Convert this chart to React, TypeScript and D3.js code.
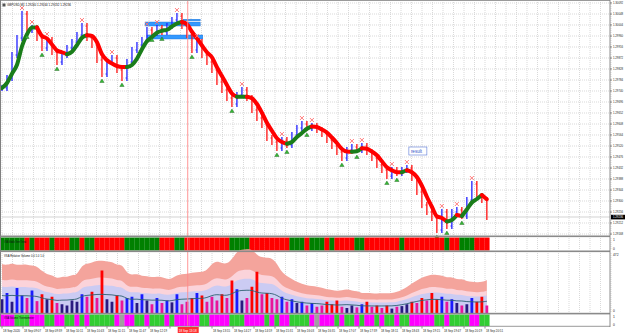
import React from 'react';
import * as d3 from 'd3';

const W = 625;
const H = 333;
const plotL = 2;
const plotR = 610;

const titleText = 'GBPUSD,M1  1.29240 1.29244 1.29232 1.29236';

// closes, one bar every barSeconds starting at 08:35
const barSeconds = 457;
const closes = [
  1.29752, 1.29792, 1.29884, 1.29952, 1.30048, 1.29984, 1.29992, 1.29952, 1.29912, 1.29944,
  1.29896, 1.29856, 1.29884, 1.29912, 1.29936, 1.29964, 1.30000, 1.29952, 1.29924, 1.29864,
  1.29808, 1.29856, 1.29872, 1.29824, 1.29792, 1.29856, 1.29904, 1.29924, 1.29944, 1.29984,
  1.29972, 1.29992, 1.29976, 1.30000, 1.30024, 1.30040, 1.30000, 1.29964, 1.29904, 1.29936,
  1.29884, 1.29856, 1.29824, 1.29776, 1.29744, 1.29712, 1.29688, 1.29724, 1.29744, 1.29712,
  1.29664, 1.29632, 1.29604, 1.29552, 1.29536, 1.29512, 1.29544, 1.29524, 1.29564, 1.29592,
  1.29608, 1.29592, 1.29600, 1.29584, 1.29568, 1.29544, 1.29520, 1.29496, 1.29472, 1.29504,
  1.29516, 1.29504, 1.29520, 1.29496, 1.29472, 1.29444, 1.29424, 1.29400, 1.29424, 1.29412,
  1.29424, 1.29432, 1.29392, 1.29336, 1.29284, 1.29256, 1.29232, 1.29184, 1.29256, 1.29200,
  1.29256, 1.29264, 1.29240, 1.29304, 1.29368, 1.29320, 1.29304, 1.29236,
];

const volumes = [
  110, 160, 90, 200, 140, 120, 180, 95, 150, 110,
  130, 80, 70, 60, 100, 90, 150, 130, 170, 120,
  340, 110, 90, 140, 100, 120, 130, 80, 150, 100,
  70, 120, 80, 100, 85, 150, 70, 90, 120, 160,
  140, 90, 130, 100, 150, 120, 260, 190, 100, 120,
  210, 330, 150, 160, 120, 110, 130, 90, 110, 80,
  90, 60, 80, 50, 60, 90, 70, 100, 50, 40,
  60, 45, 70, 90, 50, 60, 40, 60, 35, 50,
  55, 70, 90, 80, 120, 100, 160, 110, 130, 90,
  110, 80, 60, 70, 120, 90, 130, 60,
];

// G = up trend, R = down trend
const trendStates = (
  'GGGGG' + 'RGRRR' + 'GRRRG' + 'GRGGR' + 'RRRRR' + 'GGGGG' + 'GGRRR' + 'GGRRR' + 'RRRRR' + 'RGGGG' +
  'RRRRR' + 'RRRGG' + 'GRGGG' + 'RGRRR' + 'RGGRR' + 'RRRRR' + 'GRRRR' + 'RRRRG' + 'RRGGG' + 'RRR'
).split('');

// M = magenta, G = green, S = neutral
const thermoStates = (
  'MMMGG' + 'GMMMG' + 'GMMGG' + 'MGMGG' + 'GGGMS' + 'MMGGM' + 'GGGMG' + 'MMMMM' + 'GGMMM' + 'MGGGM' +
  'MMMGM' + 'GMMGG' + 'GGMSM' + 'MMGMG' + 'GMGMM' + 'GMGGM' + 'GGMMM' + 'MMGGM' + 'GGGGM' + 'MGG'
).split('');

const timeLabels = [
  '08:35', '09:07', '09:39', '10:11', '10:43', '11:15', '11:47', '12:19', '12:51', '13:23', '13:55', '14:27',
  '14:59', '15:31', '16:03', '16:35', '17:07', '17:39', '18:11', '18:43', '19:15', '19:47', '20:19', '20:51',
];

const priceLabels = d3.range(22).map((k) => 1.30092 - 0.00044 * k);

const levels = [
  { from: '12:13', to: '13:37', price: 1.30008, kind: 'thick' },
  { from: '13:11', to: '13:37', price: 1.30024, kind: 'thin' },
  { from: '12:16', to: '13:41', price: 1.29956, kind: 'thick' },
];

const cursorTime = '13:18';
const resultNote = { time: '18:55', price: 1.295, text: 'result' };

const parse = d3.timeParse('%Y-%m-%d %H:%M');
const at = (hm: string) => parse('2020-09-18 ' + hm) as Date;
const t0 = at('08:35');

const x = d3.scaleTime().domain([t0, d3.timeMinute.offset(t0, 32)]).range([plotL, plotL + 21]);
const y = d3.scaleLinear().domain([1.30104, 1.29104]).range([0, 250]);
const vy = d3.scaleLinear().domain([0, 472]).range([313, 254]);

const barTimes = closes.map((_, i) => d3.timeSecond.offset(t0, i * barSeconds));

const font = 'Liberation Sans, Arial, sans-serif';

export default function App() {
  const xs = barTimes.map((t) => x(t));

  const ma = closes.map((_, i) => d3.mean(closes.slice(Math.max(0, i - 3), i + 1)) as number);
  const maPts = ma.map((v, i) => ({ x: xs[i], y: y(v), up: i === 0 ? true : v >= ma[i - 1] }));
  const runs: { up: boolean; pts: { x: number; y: number }[] }[] = [];
  maPts.forEach((p, i) => {
    const last = runs[runs.length - 1];
    if (!last || last.up !== p.up) runs.push({ up: p.up, pts: i > 0 ? [maPts[i - 1], p] : [p] });
    else last.pts.push(p);
  });
  const maLine = d3
    .line<{ x: number; y: number }>()
    .x((d) => d.x)
    .y((d) => d.y)
    .curve(d3.curveMonotoneX);

  const avg = volumes.map((_, i) => d3.mean(volumes.slice(Math.max(0, i - 4), i + 5)) as number);
  const band = (k: number) =>
    d3
      .area<number>()
      .x((_, i) => xs[i])
      .y0(vy(0))
      .y1((d) => vy(d * k))
      .curve(d3.curveBasis)(avg) as string;
  const avgLine = d3
    .line<number>()
    .x((_, i) => xs[i])
    .y((d) => vy(d))
    .curve(d3.curveBasis)(avg) as string;

  const gridTimes = d3.range(0, 930, 16).map((m) => d3.timeMinute.offset(t0, m));
  const lastClose = closes[closes.length - 1];
  const cursorX = x(at(cursorTime));

  const highs: number[] = [];
  const lows: number[] = [];
  closes.forEach((c, i) => {
    if (i === 0 || i === closes.length - 1) return;
    if (c > closes[i - 1] && c >= closes[i + 1]) highs.push(i);
    if (c < closes[i - 1] && c <= closes[i + 1]) lows.push(i);
  });

  const trendColor = (s: string) => (s === 'G' ? '#008000' : '#ff0000');
  const thermoColor = (s: string) => (s === 'M' ? '#ff00ff' : s === 'G' ? '#32cd32' : '#a0a0a0');

  return (
    <svg
      width={W}
      height={H}
      style={{ position: 'fixed', left: 0, top: 0, background: '#fff' }}
      fontFamily={font}
    >
      <rect width={W} height={H} fill="#fff" />

      {/* grid */}
      <g stroke="#cfcfcf" strokeWidth={0.8} strokeDasharray="1 1">
        {priceLabels.map((p, i) => (
          <line key={'h' + i} x1={plotL} x2={plotR} y1={y(p)} y2={y(p)} />
        ))}
        {gridTimes.map((t, i) => (
          <line key={'v' + i} x1={x(t)} x2={x(t)} y1={2} y2={235} />
        ))}
        {gridTimes.map((t, i) => (
          <line key={'v2' + i} x1={x(t)} x2={x(t)} y1={253} y2={312} />
        ))}
        {gridTimes.map((t, i) => (
          <line key={'v3' + i} x1={x(t)} x2={x(t)} y1={238} y2={250} />
        ))}
      </g>

      {/* bid line */}
      <line x1={plotL} x2={plotR} y1={y(lastClose)} y2={y(lastClose)} stroke="#c8c8c8" strokeWidth={0.8} />

      {/* levels */}
      {levels.map((l, i) => (
        <g key={'lv' + i}>
          <rect
            x={x(at(l.from))}
            y={y(l.price) - (l.kind === 'thick' ? 2 : 0.8)}
            width={x(at(l.to)) - x(at(l.from))}
            height={l.kind === 'thick' ? 4 : 1.6}
            fill="#3399ff"
            stroke="#1e6fd0"
            strokeWidth={0.4}
          />
        </g>
      ))}

      {/* price bars */}
      {closes.map((c, i) => {
        const o = i === 0 ? c : closes[i - 1];
        const top = y(Math.max(o, c)) - 3;
        const bot = y(Math.min(o, c)) + 3;
        return (
          <g key={'b' + i}>
            <line x1={xs[i]} x2={xs[i]} y1={top} y2={bot} stroke={c >= o ? '#2020ff' : '#ff1010'} strokeWidth={1.3} />
            <line x1={xs[i] - 1.5} x2={xs[i]} y1={y(o)} y2={y(o)} stroke={c >= o ? '#2020ff' : '#ff1010'} strokeWidth={0.8} />
            <line x1={xs[i]} x2={xs[i] + 1.5} y1={y(c)} y2={y(c)} stroke={c >= o ? '#8080ff' : '#ff8080'} strokeWidth={0.8} />
          </g>
        );
      })}

      {/* moving average */}
      {runs.map((r, i) => (
        <path
          key={'ma' + i}
          d={maLine(r.pts) as string}
          fill="none"
          stroke={r.up ? '#1a7d1a' : '#ff0000'}
          strokeWidth={4}
          strokeLinecap="round"
        />
      ))}

      {/* swing markers */}
      {highs.map((i) => {
        const cx = xs[i];
        const cy = y(closes[i]) - 6;
        return (
          <g key={'hi' + i} stroke="#ff7070" strokeWidth={0.9}>
            <line x1={cx - 2} x2={cx + 2} y1={cy - 2} y2={cy + 2} />
            <line x1={cx - 2} x2={cx + 2} y1={cy + 2} y2={cy - 2} />
          </g>
        );
      })}
      {lows.map((i) => {
        const cx = xs[i];
        const cy = y(closes[i]) + 5;
        return (
          <path
            key={'lo' + i}
            d={`M${cx},${cy} L${cx - 2.2},${cy + 3.5} L${cx + 2.2},${cy + 3.5} Z`}
            fill="#33b833"
            stroke="#1e5e1e"
            strokeWidth={0.4}
          />
        );
      })}

      {/* result note */}
      <g>
        <rect
          x={x(at(resultNote.time))}
          y={y(resultNote.price) - 4}
          width={18}
          height={8}
          fill="#fff"
          stroke="#5a78d8"
          strokeWidth={0.6}
        />
        <text x={x(at(resultNote.time)) + 2} y={y(resultNote.price) + 1.8} fontSize={4.5} fill="#3050c8">
          {resultNote.text}
        </text>
      </g>

      {/* trend panel */}
      {trendStates.map((s, i) => (
        <rect key={'tr' + i} x={xs[i] - 2.5} y={237.5} width={5.2} height={13} fill={trendColor(s)} />
      ))}
      <text x={4} y={242.5} fontSize={3} fill="#111" textLength={22} lengthAdjust="spacingAndGlyphs">
        VSA Middle Term Trend
      </text>

      {/* volume panel */}
      <path d={band(2.8)} fill="#f4a49c" />
      <path d={band(1.9)} fill="#fbd3da" />
      <path d={band(1.5)} fill="#cbcbf3" />
      {volumes.map((v, i) => {
        const o = i === 0 ? closes[0] : closes[i - 1];
        const up = closes[i] >= o;
        const strong = v > avg[i];
        const col = up ? (strong ? '#1a1aff' : '#2a1a80') : strong ? '#ff0000' : '#e8169a';
        return <rect key={'vb' + i} x={xs[i] - 1.4} y={vy(v)} width={2.8} height={vy(0) - vy(v)} fill={col} />;
      })}
      <path d={avgLine} fill="none" stroke="#2c6070" strokeWidth={0.9} />
      <text x={4} y={257} fontSize={3} fill="#111" textLength={40} lengthAdjust="spacingAndGlyphs">
        VSA Relative Volume 0.0 1.0 1.0
      </text>

      {/* thermometer panel */}
      {thermoStates.map((s, i) => (
        <rect key={'th' + i} x={xs[i] - 2.5} y={314.5} width={5.2} height={11.5} fill={thermoColor(s)} />
      ))}
      <text x={4} y={318.5} fontSize={3} fill="#111" textLength={30} lengthAdjust="spacingAndGlyphs">
        VSA Volume Thermometer
      </text>

      {/* cursor line */}
      <line x1={cursorX} x2={cursorX} y1={0} y2={326} stroke="#ff8a8a" strokeWidth={0.9} />

      {/* frames */}
      <line x1={0} x2={plotR} y1={0.5} y2={0.5} stroke="#9a9a9a" />
      <line x1={0.5} x2={0.5} y1={0} y2={326} stroke="#808080" />
      <rect x={0} y={235.5} width={plotR} height={1.6} fill="#8a8a8a" />
      <rect x={0} y={250.5} width={plotR} height={1.6} fill="#8a8a8a" />
      <rect x={0} y={312.8} width={plotR} height={1.6} fill="#8a8a8a" />
      <line x1={0} x2={plotR} y1={326.3} y2={326.3} stroke="#808080" strokeWidth={0.8} />
      <line x1={plotR} x2={plotR} y1={0} y2={327} stroke="#808080" strokeWidth={0.9} />

      {/* title */}
      <path d="M2.5,3.5 h3 v3 h-3 Z" fill="#555" />
      <text x={7} y={6.3} fontSize={3.4} fill="#111" textLength={64} lengthAdjust="spacingAndGlyphs">
        {titleText}
      </text>

      {/* price axis */}
      {priceLabels.map((p, i) => (
        <g key={'pl' + i}>
          <line x1={plotR} x2={plotR + 2} y1={y(p)} y2={y(p)} stroke="#444" strokeWidth={0.6} />
          <text x={plotR + 3} y={y(p) + 1.2} fontSize={3.3} fill="#222" textLength={10} lengthAdjust="spacingAndGlyphs">
            {p.toFixed(5)}
          </text>
        </g>
      ))}
      <rect x={plotR + 1} y={y(lastClose) - 2.2} width={14} height={4.6} fill="#000" />
      <text x={plotR + 3} y={y(lastClose) + 1.2} fontSize={3.3} fill="#fff" textLength={10} lengthAdjust="spacingAndGlyphs">
        {lastClose.toFixed(5)}
      </text>

      {/* indicator axes */}
      <text x={plotR + 3} y={241} fontSize={3.3} fill="#222">1</text>
      <text x={plotR + 3} y={249.5} fontSize={3.3} fill="#222">0</text>
      <text x={plotR + 3} y={256} fontSize={3.3} fill="#222">472</text>
      <text x={plotR + 3} y={312} fontSize={3.3} fill="#222">0</text>
      <text x={plotR + 3} y={318} fontSize={3.3} fill="#222">1</text>
      <text x={plotR + 3} y={325.5} fontSize={3.3} fill="#222">0</text>

      {/* time axis */}
      {timeLabels.map((t, i) => {
        const tx = x(at(t));
        const hidden = Math.abs(tx - cursorX) < 20;
        return (
          <g key={'tl' + i}>
            <line x1={tx} x2={tx} y1={326.5} y2={328.5} stroke="#444" strokeWidth={0.6} />
            {!hidden && (
              <text x={tx + 1} y={331.5} fontSize={3.3} fill="#222" textLength={17} lengthAdjust="spacingAndGlyphs">
                {i === 0 ? '18 Sep 2020' : '18 Sep ' + t}
              </text>
            )}
          </g>
        );
      })}
      <rect x={cursorX - 10} y={327} width={21} height={6} fill="#ff3030" />
      <text x={cursorX - 9} y={331.5} fontSize={3.3} fill="#fff" textLength={18} lengthAdjust="spacingAndGlyphs">
        {'18 Sep ' + cursorTime}
      </text>
    </svg>
  );
}
